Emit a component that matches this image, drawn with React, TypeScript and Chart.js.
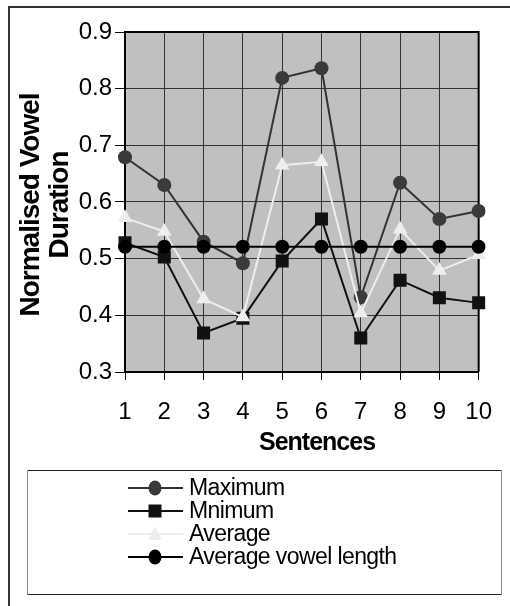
import React, { useEffect, useRef } from "react";
import { Chart, registerables } from "chart.js";

Chart.register(...registerables);

const categories = ["1", "2", "3", "4", "5", "6", "7", "8", "9", "10"];
const maximum = [0.679, 0.63, 0.53, 0.492, 0.819, 0.836, 0.432, 0.634, 0.57, 0.584];
const minimum = [0.528, 0.503, 0.369, 0.395, 0.496, 0.57, 0.36, 0.462, 0.431, 0.422];
const average = [0.572, 0.548, 0.429, 0.397, 0.665, 0.671, 0.404, 0.552, 0.479, 0.507];
const avgVowel = [0.521, 0.521, 0.521, 0.521, 0.521, 0.521, 0.521, 0.521, 0.521, 0.521];
const seriesNames = ["Maximum", "Mnimum", "Average", "Average vowel length"];
const yTitleLines = ["Normalised Vowel", "Duration"];
const xTitle = "Sentences";

const FONT = "'Liberation Sans', Arial, sans-serif";
const W = 510;
const H = 606;

const styles = [
  { line: "#333333", fill: "#3a3a3a", shape: "circle" },
  { line: "#111111", fill: "#111111", shape: "rect" },
  { line: "#eeeeee", fill: "#eeeeee", shape: "triangle" },
  { line: "#000000", fill: "#000000", shape: "circle" },
];

function drawMarker(ctx: CanvasRenderingContext2D, shape: string, x: number, y: number, color: string) {
  ctx.save();
  ctx.fillStyle = color;
  ctx.beginPath();
  if (shape === "circle") {
    ctx.ellipse(x, y, 6.5, 7.5, 0, 0, Math.PI * 2);
  } else if (shape === "rect") {
    ctx.rect(x - 6.5, y - 6.5, 13, 13);
  } else {
    ctx.moveTo(x, y - 8);
    ctx.lineTo(x + 7, y + 6);
    ctx.lineTo(x - 7, y + 6);
    ctx.closePath();
  }
  ctx.fill();
  ctx.restore();
}

const framePlugin = {
  id: "frame",
  beforeDraw(chart: any) {
    const { ctx, chartArea } = chart;
    ctx.save();
    ctx.fillStyle = "#ffffff";
    ctx.fillRect(0, 0, W, H);
    ctx.fillStyle = "#c0c0c0";
    ctx.fillRect(chartArea.left, chartArea.top, chartArea.right - chartArea.left, chartArea.bottom - chartArea.top);
    ctx.restore();
  },
  beforeDatasetsDraw(chart: any) {
    const { ctx, chartArea } = chart;
    ctx.save();
    ctx.strokeStyle = "#000";
    ctx.lineWidth = 2;
    ctx.beginPath();
    ctx.moveTo(chartArea.left, chartArea.top);
    ctx.lineTo(chartArea.right, chartArea.top);
    ctx.lineTo(chartArea.right, chartArea.bottom);
    ctx.stroke();
    ctx.restore();
  },
  afterDraw(chart: any) {
    const { ctx, chartArea } = chart;
    ctx.save();
    // outer frame
    ctx.strokeStyle = "#333333";
    ctx.lineWidth = 2;
    ctx.beginPath();
    ctx.moveTo(9, H);
    ctx.lineTo(9, 7);
    ctx.lineTo(W, 7);
    ctx.stroke();

    // axis titles
    ctx.fillStyle = "#000";
    ctx.textAlign = "center";
    ctx.textBaseline = "middle";
    (ctx as any).letterSpacing = "-1px";
    ctx.font = `bold 25px ${FONT}`;
    ctx.fillText(xTitle, 317, 443);
    ctx.font = `bold 28px ${FONT}`;
    const cy = (chartArea.top + chartArea.bottom) / 2 + 3;
    ctx.save();
    ctx.translate(31, cy);
    ctx.rotate(-Math.PI / 2);
    ctx.fillText(yTitleLines[0], 0, 0);
    ctx.restore();
    ctx.save();
    ctx.translate(60, cy);
    ctx.rotate(-Math.PI / 2);
    ctx.fillText(yTitleLines[1], 0, 0);
    ctx.restore();

    // legend box
    ctx.lineWidth = 1;
    ctx.strokeStyle = "#222";
    ctx.beginPath();
    ctx.moveTo(27, 470.5);
    ctx.lineTo(501, 470.5);
    ctx.stroke();
    ctx.beginPath();
    ctx.moveTo(27, 594.5);
    ctx.lineTo(501, 594.5);
    ctx.stroke();
    ctx.strokeStyle = "#888";
    ctx.beginPath();
    ctx.moveTo(27.5, 470);
    ctx.lineTo(27.5, 595);
    ctx.moveTo(501.5, 470);
    ctx.lineTo(501.5, 595);
    ctx.stroke();

    // legend items
    const rows = [488, 511, 534, 557];
    ctx.font = `23px ${FONT}`;
    (ctx as any).letterSpacing = "-0.6px";
    ctx.textAlign = "left";
    ctx.textBaseline = "middle";
    seriesNames.forEach((name, i) => {
      const s = styles[i];
      const y = rows[i];
      ctx.strokeStyle = s.line;
      ctx.lineWidth = 2;
      ctx.beginPath();
      ctx.moveTo(128, y);
      ctx.lineTo(183, y);
      ctx.stroke();
      drawMarker(ctx, s.shape, 155, y, s.fill);
      ctx.fillStyle = "#000";
      ctx.fillText(name, 189, y + 1);
    });
    ctx.restore();
  },
};

export default function App() {
  const ref = useRef<HTMLCanvasElement>(null);
  useEffect(() => {
    if (!ref.current) return;
    const mk = (label: string, data: number[], i: number, radius: number, order: number) => ({
      label,
      data,
      borderColor: styles[i].line,
      backgroundColor: styles[i].fill,
      pointBackgroundColor: styles[i].fill,
      pointBorderColor: styles[i].fill,
      pointBorderWidth: 0,
      pointStyle: styles[i].shape,
      pointRadius: radius,
      borderWidth: 2,
      tension: 0,
      order,
    });
    const chart = new Chart(ref.current, {
      type: "line",
      data: {
        labels: categories,
        datasets: [
          mk(seriesNames[0], maximum, 0, 7, 3),
          mk(seriesNames[1], minimum, 1, 9.2, 2),
          mk(seriesNames[2], average, 2, 8.5, 1),
          mk(seriesNames[3], avgVowel, 3, 7, 0),
        ],
      },
      options: {
        animation: false,
        responsive: false,
        devicePixelRatio: 1,
        layout: { padding: { left: 0, top: 32, right: 23, bottom: 0 } },
        plugins: { legend: { display: false }, tooltip: { enabled: false } },
        scales: {
          x: {
            type: "category",
            offset: false,
            grid: { color: "#333", lineWidth: 1, tickLength: 8, tickColor: "#000", drawTicks: true },
            border: { display: true, color: "#000", width: 2 },
            ticks: { color: "#000", font: { family: FONT, size: 24 }, padding: 18, maxRotation: 0 },
            afterFit: (s: any) => {
              s.height = H - 372;
            },
          },
          y: {
            min: 0.3,
            max: 0.9,
            grid: { color: "#333", lineWidth: 1, tickLength: 10, tickColor: "#000" },
            border: { display: true, color: "#000", width: 2 },
            ticks: {
              stepSize: 0.1,
              color: "#000",
              font: { family: FONT, size: 24 },
              padding: 3,
              callback: (v: any) => Number(v).toFixed(1),
            },
            afterFit: (s: any) => {
              s.width = 125;
            },
          },
        },
      },
      plugins: [framePlugin],
    } as any);
    return () => chart.destroy();
  }, []);
  return (
    <div style={{ position: "absolute", left: 0, top: 0, width: W, height: H }}>
      <canvas ref={ref} width={W} height={H} style={{ display: "block", width: W, height: H }} />
    </div>
  );
}
